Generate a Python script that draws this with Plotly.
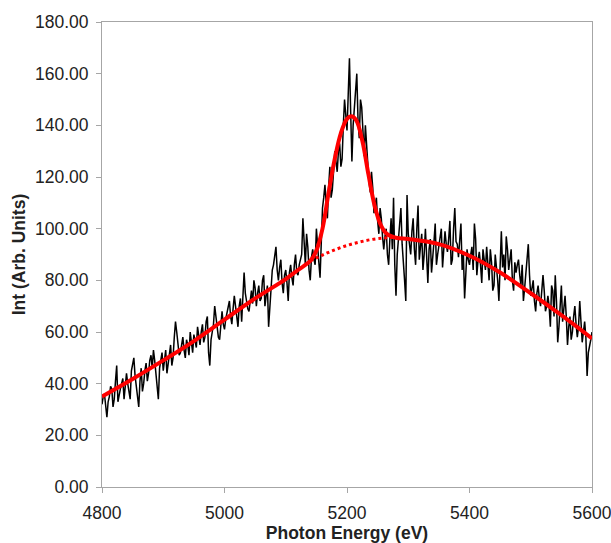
import numpy as np
import plotly.graph_objects as go

# Measured spectrum, read on a 2 eV grid: samples at 4800, 4804, ... (even set)
energy_a = np.arange(4800, 5601, 4)
intensity_a = [
    32, 36, 27, 35, 38, 34, 47, 36, 40, 34,
    44, 37, 45, 50, 38, 31, 46, 40, 48, 44,
    51, 53, 43, 34, 50, 45, 53, 48, 55, 50,
    64, 56, 52, 58, 50, 55, 60, 52, 57, 62,
    55, 63, 58, 66, 47, 60, 70, 62, 57, 68,
    61, 67, 72, 63, 74, 66, 70, 64, 83, 72,
    68, 76, 80, 70, 78, 73, 82, 75, 62, 79,
    86, 93, 80, 88, 75, 84, 72, 86, 78, 90,
    82, 88, 104, 86, 93, 80, 92, 86, 95, 81,
    108, 117, 104, 124, 115, 130, 122, 133, 127, 150,
    138, 166, 126, 148, 160, 135, 147, 128, 134, 118,
    122, 106, 112, 98, 104, 92, 100, 86, 104, 112,
    74, 96, 108, 88, 72, 98, 90, 104, 86, 109,
    92, 84, 100, 79, 96, 88, 102, 90, 97, 85,
    99, 91, 103, 88, 108, 94, 98, 84, 73, 92,
    86, 93, 102, 82, 91, 79, 88, 93, 80, 87,
    78, 86, 72, 99, 90, 97, 84, 92, 76, 83,
    88, 78, 72, 84, 94, 74, 80, 68, 78, 70,
    82, 68, 74, 62, 76, 82, 56, 70, 64, 74,
    55, 66, 60, 70, 58, 72, 56, 64, 43, 54, 60,
]
# ... and samples at 4802, 4806, ... (odd set)
energy_b = np.arange(4802, 5600, 4)
intensity_b = [
    35, 30, 33, 39, 31, 41, 33, 38, 42, 39,
    40, 34, 47, 43, 35, 41, 37, 45, 41, 49,
    46, 49, 38, 46, 52, 49, 44, 52, 47, 58,
    60, 51, 56, 53, 57, 51, 56, 59, 54, 58,
    60, 56, 64, 52, 57, 63, 65, 58, 64, 63,
    65, 70, 66, 69, 70, 62, 73, 76, 75, 69,
    73, 71, 77, 75, 72, 80, 70, 78, 71, 84,
    90, 84, 85, 79, 82, 79, 83, 81, 86, 83,
    86, 90, 95, 98, 84, 89, 88, 100, 87, 100,
    112, 110, 116, 112, 122, 126, 130, 124, 140, 144,
    152, 145, 140, 154, 142, 150, 138, 140, 125, 114,
    116, 110, 103, 108, 97, 97, 90, 96, 92, 86,
    90, 102, 94, 80, 113, 94, 99, 92, 100, 88,
    98, 90, 86, 92, 83, 95, 86, 93, 100, 91,
    94, 96, 86, 100, 95, 89, 102, 90, 86, 88,
    90, 84, 96, 88, 86, 92, 84, 86, 92, 76,
    90, 80, 88, 85, 80, 92, 88, 80, 87, 86,
    82, 86, 77, 90, 82, 77, 72, 75, 73, 76,
    76, 70, 70, 78, 66, 72, 62, 78, 68, 66,
    62, 57, 66, 63, 62, 64, 60, 58, 52, 57,
]

# Fit curve
fit_x = [4800, 4850, 4900, 4950, 5000, 5050, 5100, 5120, 5140, 5150, 5160, 5170,
         5180, 5190, 5200, 5207, 5215, 5225, 5235, 5245, 5255, 5265, 5280, 5300,
         5350, 5400, 5450, 5500, 5550, 5600]
fit_y = [35, 41.8, 49, 56.5, 64.8, 73, 80.5, 84, 87.5, 91.5, 100, 114, 127, 137,
         142.5, 143.5, 142, 134, 121, 109, 101.5, 98, 96.5, 96, 94, 89.5, 83,
         75, 66.5, 57.5]

# Background under the peak
bg_x = [5140, 5160, 5180, 5200, 5220, 5240, 5260, 5275]
bg_y = [87.5, 89.8, 91.8, 93.5, 94.8, 95.8, 96.4, 96.6]

y_ticks = [0, 20, 40, 60, 80, 100, 120, 140, 160, 180]
x_ticks = [4800, 5000, 5200, 5400, 5600]

# merge both sample sets in energy order
energy = np.concatenate([energy_a, energy_b])
intensity = np.concatenate([intensity_a, intensity_b])
order = np.argsort(energy)
energy = energy[order]
intensity = intensity[order]

fig = go.Figure()
fig.add_trace(go.Scatter(x=energy, y=intensity, mode="lines",
                         line=dict(color="black", width=1.5), showlegend=False))
fig.add_trace(go.Scatter(x=bg_x, y=bg_y, mode="lines", line_shape="spline",
                         line=dict(color="#ff0000", width=3, dash="dot"), showlegend=False))
fig.add_trace(go.Scatter(x=fit_x, y=fit_y, mode="lines", line_shape="spline",
                         line=dict(color="#ff0000", width=4), showlegend=False))

font_family = "Liberation Sans, Arial, sans-serif"
axis_common = dict(showline=True, linecolor="#a6a6a6", linewidth=1, mirror=True,
                   ticks="outside", tickcolor="#a6a6a6", ticklen=5, showgrid=False,
                   zeroline=False, automargin=False, ticklabeloverflow="allow",
                   tickfont=dict(family=font_family, size=17.5, color="#222"))

fig.update_xaxes(range=[4800, 5600], tickvals=x_ticks,
                 ticktext=[str(v) for v in x_ticks],
                 ticklabelstandoff=5,
                 title=dict(text="<b>Photon Energy (eV)</b>", standoff=9,
                            font=dict(family=font_family, size=17.5, color="#222")),
                 **axis_common)
fig.update_yaxes(range=[0, 180], tickvals=y_ticks,
                 ticktext=[f"{v:.2f}" for v in y_ticks],
                 title=dict(text="<b>Int (Arb. Units)</b>", standoff=4,
                            font=dict(family=font_family, size=17.5, color="#222")),
                 ticklabelstandoff=4,
                 **axis_common)

fig.update_layout(width=611, height=543, margin=dict(l=102, r=19, t=22, b=56),
                  plot_bgcolor="white", paper_bgcolor="white",
                  font=dict(family=font_family))

# remove the page's default body margin so the figure fills the window exactly
fig.write_html("out.html", config={"displayModeBar": False},
               post_script="document.body.style.margin='0';document.body.style.overflow='hidden';")
